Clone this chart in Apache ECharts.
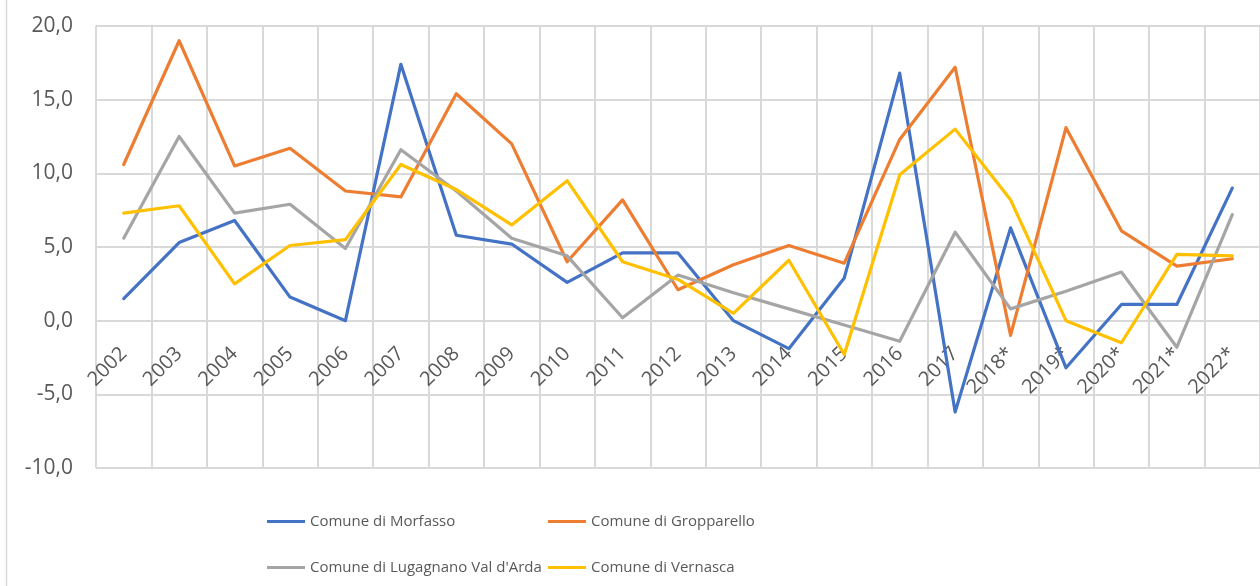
<!DOCTYPE html>
<html>
<head>
<meta charset="utf-8">
<script src="https://cdn.jsdelivr.net/npm/echarts@6/dist/echarts.min.js"></script>
<style>
  html, body { margin: 0; padding: 0; background: #fff; }
  #chartLineBox { width: 1260px; height: 586px; }
</style>
</head>
<body>
<div id="chartLineBox"></div>
<script>
// anni
const years = ['2002', '2003', '2004', '2005', '2006', '2007', '2008', '2009', '2010', '2011',
  '2012', '2013', '2014', '2015', '2016', '2017', '2018*', '2019*', '2020*', '2021*', '2022*'];

const morfasso = [1.5, 5.3, 6.8, 1.6, 0.0, 17.4, 5.8, 5.2, 2.6, 4.6, 4.6, 0.0, -1.9, 2.9, 16.8, -6.2, 6.3, -3.2, 1.1, 1.1, 9.0];
const gropparello = [10.6, 19.0, 10.5, 11.7, 8.8, 8.4, 15.4, 12.0, 4.0, 8.2, 2.1, 3.8, 5.1, 3.9, 12.3, 17.2, -1.0, 13.1, 6.1, 3.7, 4.2];
const lugagnano = [5.6, 12.5, 7.3, 7.9, 4.9, 11.6, 8.8, 5.6, 4.4, 0.2, 3.1, 1.9, 0.8, -0.3, -1.4, 6.0, 0.8, 2.0, 3.3, -1.8, 7.2];
const vernasca = [7.3, 7.8, 2.5, 5.1, 5.5, 10.6, 8.9, 6.5, 9.5, 4.0, 2.8, 0.5, 4.1, -2.3, 9.9, 13.0, 8.2, 0.0, -1.5, 4.5, 4.4];

const names = ['Comune di Morfasso', 'Comune di Gropparello', "Comune di Lugagnano Val d'Arda", 'Comune di Vernasca'];
const colors = ['#4472C4', '#ED7D31', '#A5A5A5', '#FFC000'];

const gridColor = '#d9d9d9';
const textColor = '#595959';
const font = 'Open Sans';

// plot box: value -10 at the bottom, 20 at the top
const gridTop = 26, gridBottom = 118, chartH = 586;
const plotH = chartH - gridTop - gridBottom;
// the category axis sits on the zero line
const zeroOffset = -(plotH * 10 / 30);

let chart = echarts.init(document.getElementById('chartLineBox'));

function line(name, data, color) {
  return {
    name: name,
    type: 'line',
    data: data,
    showSymbol: false,
    symbol: 'none',
    lineStyle: { width: 3.2, color: color, cap: 'round', join: 'round' },
    itemStyle: { color: color }
  };
}

// one legend per item so the two columns line up like the original
function legendItem(name, left, top) {
  return {
    data: [name],
    left: left,
    top: top,
    padding: 0,
    icon: 'rect',
    itemWidth: 38,
    itemHeight: 3,
    selectedMode: false,
    textStyle: { color: textColor, fontSize: 15, fontFamily: font }
  };
}

let option = {
  animation: false,
  color: colors,
  grid: { left: 96, right: -10, top: gridTop, bottom: gridBottom, containLabel: false },
  xAxis: {
    type: 'category',
    data: years,
    boundaryGap: true,
    offset: zeroOffset,
    axisLine: { onZero: false, lineStyle: { color: gridColor, width: 2 } },
    axisTick: { show: false },
    axisLabel: {
      interval: 0,
      rotate: 45,
      margin: 30,
      color: textColor,
      fontSize: 20,
      fontFamily: font
    },
    splitLine: { show: true, lineStyle: { color: gridColor, width: 2 } }
  },
  yAxis: {
    type: 'value',
    min: -10,
    max: 20,
    interval: 5,
    axisLine: { show: false },
    axisTick: { show: false },
    axisLabel: {
      margin: 23,
      color: textColor,
      fontSize: 21,
      fontFamily: font,
      formatter: function (v) { return v.toFixed(1).replace('.', ','); }
    },
    splitLine: { show: true, lineStyle: { color: gridColor, width: 2 } }
  },
  legend: [
    legendItem(names[0], 267, 514),
    legendItem(names[1], 548, 514),
    legendItem(names[2], 267, 560),
    legendItem(names[3], 548, 560)
  ],
  graphic: [{
    type: 'line',
    shape: { x1: 6.5, y1: 0, x2: 6.5, y2: 586 },
    style: { stroke: gridColor, lineWidth: 1.5 }
  }],
  series: [
    line(names[0], morfasso, colors[0]),
    line(names[1], gropparello, colors[1]),
    line(names[2], lugagnano, colors[2]),
    line(names[3], vernasca, colors[3])
  ]
};

chart.setOption(option);
</script>
</body>
</html>
